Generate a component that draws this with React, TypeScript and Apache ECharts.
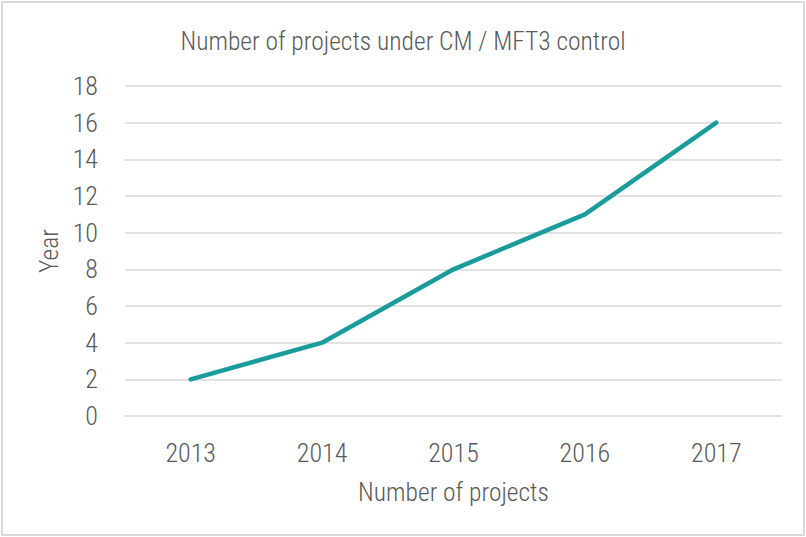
import React, { useEffect, useRef } from "react";
import * as echarts from "echarts";

const years = ["2013", "2014", "2015", "2016", "2017"];
const projects = [2, 4, 8, 11, 16];
const titleText = "Number of projects under CM / MFT3 control";
const xName = "Number of projects";
const yName = "Year";

const FONT = "'Roboto Condensed', 'Liberation Sans Narrow', Roboto, sans-serif";
const TXT = "#595959";
const W = 300;

export default function App() {
  const ref = useRef<HTMLDivElement>(null);
  useEffect(() => {
    if (!ref.current) return;
    const chart = echarts.init(ref.current, null, { renderer: "svg" });
    chart.setOption({
      animation: false,
      backgroundColor: "#ffffff",
      textStyle: { fontFamily: FONT },
      title: {
        text: titleText,
        left: "center",
        top: 23,
        textStyle: { fontFamily: FONT, fontSize: 25.5, fontWeight: W, color: TXT },
      },
      graphic: [
        {
          type: "rect",
          shape: { x: 2, y: 2, width: 802, height: 533 },
          style: { fill: "none", stroke: "#d9d9d9", lineWidth: 2 },
          silent: true,
        },
      ],
      grid: { left: 125, right: 24, top: 86, bottom: 121, containLabel: false },
      xAxis: {
        type: "category",
        data: years,
        boundaryGap: true,
        name: xName,
        nameLocation: "middle",
        nameGap: 63,
        nameTextStyle: { fontFamily: FONT, fontSize: 25.5, fontWeight: W, color: TXT },
        axisLine: { show: false },
        axisTick: { show: false },
        axisLabel: { fontFamily: FONT, fontSize: 26, fontWeight: W, color: TXT, margin: 24 },
      },
      yAxis: {
        type: "value",
        min: 0,
        max: 18,
        interval: 2,
        name: yName,
        nameLocation: "middle",
        nameGap: 62,
        nameRotate: 90,
        nameTextStyle: { fontFamily: FONT, fontSize: 25.5, fontWeight: W, color: TXT },
        axisLine: { show: false },
        axisTick: { show: false },
        axisLabel: { fontFamily: FONT, fontSize: 26, fontWeight: W, color: TXT, margin: 27 },
        splitLine: { lineStyle: { color: "#d9d9d9", width: 1.5 } },
      },
      series: [
        {
          type: "line",
          data: projects,
          symbol: "none",
          lineStyle: { color: "#1a9c9c", width: 4.5, cap: "round", join: "round" },
          itemStyle: { color: "#1a9c9c" },
        },
      ],
    });
    return () => chart.dispose();
  }, []);
  return (
    <div
      ref={ref}
      style={{ position: "fixed", left: 0, top: 0, width: 806, height: 537 }}
    />
  );
}
